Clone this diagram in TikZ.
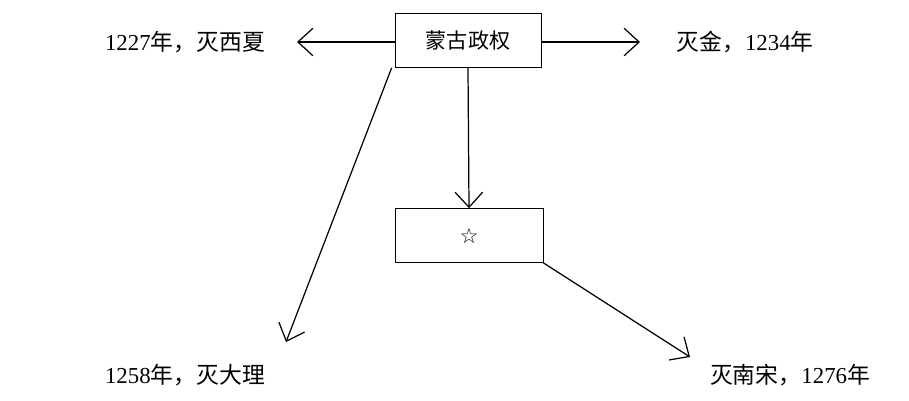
\documentclass[tikz,border=0pt]{standalone}
\usepackage{fontspec}
\setmainfont{Liberation Serif}
\newfontfamily\cjk{Noto Sans CJK SC}
\newfontfamily\symb{DejaVu Sans}
\usetikzlibrary{arrows.meta, positioning}
\tikzset{
  box/.style={draw, minimum width=2.92cm, minimum height=1.08cm, font=\cjk\fontsize{12}{14}\selectfont},
  lbl/.style={font=\fontsize{13}{15}\selectfont},
  arrow/.style={-{Straight Barb[length=3mm, width=5.5mm]}, line width=0.7pt}
}
\begin{document}
\begin{tikzpicture}[x=0.02cm, y=-0.02cm]
  \useasboundingbox (0,0) rectangle (909,401);
  % Nodes
  \node[box] (mg) at (468,40.5) {蒙古政权};
  \node[box, minimum width=2.96cm] (star) at (469,235.5) {\symb ☆};
  \node[lbl] (xx) at (185,42) {1227{\cjk 年，灭西夏}};
  \node[lbl] (jin) at (745,42) {{\cjk 灭金，}1234{\cjk 年}};
  \node[lbl] (dl) at (185,375) {1258{\cjk 年，灭大理}};
  \node[lbl] (ns) at (790,375) {{\cjk 灭南宋，}1276{\cjk 年}};
  \coordinate (xxe) at (297,42);
  \coordinate (jinw) at (640,42);
  \coordinate (dlt) at (286,342);
  \coordinate (nst) at (690,357);
  % Arrows
  \draw[arrow] (mg.west |- xxe) -- (xxe);
  \draw[arrow] (mg.east |- jinw) -- (jinw);
  \draw[arrow] ([xshift=-0.06cm]mg.south west) -- (dlt);
  \draw[arrow] (mg.south) -- (star.north);
  \draw[arrow] (star.south east) -- (nst);
\end{tikzpicture}
\end{document}
